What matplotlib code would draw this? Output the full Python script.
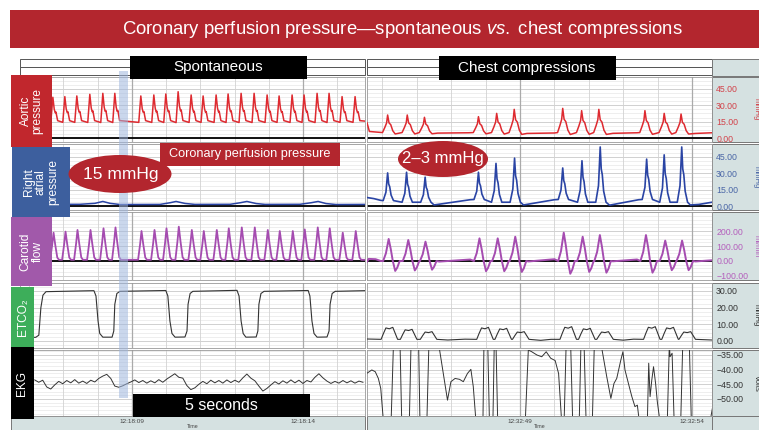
import numpy as np
import matplotlib.pyplot as plt
from matplotlib.patches import Rectangle, Ellipse
from matplotlib.ticker import FixedLocator, MultipleLocator, FuncFormatter

plt.rcParams['font.family'] = ['Liberation Sans', 'DejaVu Sans']
plt.rcParams['mathtext.fontset'] = 'custom'
plt.rcParams['mathtext.rm'] = 'Liberation Sans'
plt.rcParams['mathtext.it'] = 'Liberation Sans:italic'

# ---------------- data (seconds after 12:18:00 left, after 12:32:00 right) ----------------
left_xlim = (5.73, 15.81)
right_xlim = (44.55, 54.58)
left_time_ticks = [9, 14]
left_time_labels = ['12:18:09', '12:18:14']
right_time_ticks = [49, 54]
right_time_labels = ['12:32:49', '12:32:54']

# aortic pressure, spontaneous beats (mmHg)
aortic_left_t = [6.69, 7.04, 7.39, 7.77, 8.15, 8.50, 9.26, 9.64, 9.99, 10.35, 10.73, 11.08,
                 11.46, 11.81, 12.19, 12.57, 12.95, 13.30, 13.68, 14.03, 14.41, 14.76, 15.14, 15.52]
aortic_left_peak = [37.4, 38.0, 38.6, 40.1, 41.0, 41.0, 38.6, 39.5, 40.4, 42.5, 39.5, 38.6,
                    39.5, 40.4, 41.0, 41.0, 39.5, 38.6, 39.5, 39.5, 41.0, 41.0, 38.0, 38.0]
aortic_left_base = 15.5

# aortic pressure, chest compressions
compress_t = [45.15, 45.72, 46.22, 47.79, 48.32, 48.83, 50.24, 50.79, 51.29, 52.63, 53.19, 53.68]
aortic_right_peak = [21.1, 21.1, 19.0, 19.6, 22.6, 26.3, 27.2, 25.1, 26.3, 25.1, 22.6, 22.0]
aortic_right_base = 5.0
aortic_right_pause_t = [44.55, 44.62, 44.8, 46.6, 47.5, 49.2, 50.0, 51.7, 52.4, 54.1, 54.58]
aortic_right_pause_v = [14.0, 6.0, 5.5, 4.5, 4.8, 4.2, 4.6, 4.3, 4.8, 4.2, 4.8]

# right atrial pressure
ra_left_t = [5.73, 7.48, 7.92, 8.15, 8.36, 8.65, 9.82, 10.11, 10.29, 10.55, 10.84, 11.87,
             12.16, 12.36, 12.63, 12.89, 13.91, 14.23, 14.44, 14.67, 14.96, 15.81]
ra_left_v = [1.5, 1.6, 2.5, 4.2, 2.5, 1.4, 1.5, 3.0, 4.2, 2.4, 1.5, 1.6,
             3.0, 4.2, 2.3, 1.5, 1.6, 3.0, 4.2, 2.3, 1.4, 1.5]
ra_right_t = [45.15, 45.70, 46.24, 47.79, 48.30, 48.84, 50.24, 50.80, 51.33, 52.68, 53.19, 53.70]
ra_right_peak = [30.3, 30.9, 26.4, 30.9, 39.0, 43.8, 34.8, 41.4, 54.0, 42.9, 46.8, 54.0]
ra_right_base = [5.0, 3.5, 3.5, 6.0, 3.5, 3.5, 6.0, 3.5, 3.5, 6.0, 3.5, 3.5]
ra_right_pause_t = [44.55, 44.75, 44.95, 46.5, 47.55, 49.1, 50.0, 51.6, 52.45, 53.95, 54.2, 54.58]
ra_right_pause_v = [7.8, 6.8, 5.2, 1.0, 5.8, 1.0, 5.8, 0.8, 5.8, 1.0, 1.5, 3.5]

# carotid flow (ml/min)
carotid_left_peak = [189, 196, 207, 207, 218, 224, 200, 207, 218, 229, 207, 200,
                     207, 218, 224, 224, 207, 200, 200, 211, 224, 218, 189, 200]
carotid_left_base = 8
carotid_right_peak = [147, 140, 129, 151, 151, 162, 189, 162, 173, 173, 136, 136]
carotid_right_pause_t = [44.55, 44.6, 44.8, 44.95, 46.65, 47.55, 49.25, 50.0, 51.7, 52.4, 54.1, 54.58]
carotid_right_pause_v = [-5, 14, 12, 0, -4, 10, -3, 12, -2, 10, -3, 5]

# end-tidal CO2 (mmHg)
etco2_left_t = [5.73, 6.19, 6.28, 6.34, 6.40, 6.49, 7.89, 7.95, 8.01, 8.06, 8.15, 8.42, 8.47,
                8.50, 8.56, 8.65, 9.99, 10.05, 10.11, 10.17, 10.26, 10.55, 10.61, 10.64, 10.70,
                10.78, 12.07, 12.13, 12.19, 12.25, 12.33, 12.63, 12.68, 12.71, 12.77, 12.86,
                14.15, 14.20, 14.26, 14.32, 14.41, 14.70, 14.76, 14.79, 14.85, 14.94, 15.81]
etco2_left_v = [2.2, 2.2, 3.5, 20, 27.5, 29.6, 30.2, 27, 12, 4.5, 2.3, 2.3, 6,
                22, 28.5, 29.8, 30.3, 27, 12, 4.5, 2.3, 2.4, 6, 22, 28.5,
                29.8, 30.4, 27, 12, 4.5, 2.3, 2.4, 6, 22, 28.5, 29.8,
                30.3, 27, 12, 4.5, 2.3, 2.4, 6, 22, 28.5, 29.8, 30.2]
etco2_right_t = [45.20, 45.76, 46.34, 47.98, 48.51, 49.02, 50.40, 50.94, 51.47, 52.83, 53.36, 53.86]
etco2_right_peak = [8.2, 7.0, 5.6, 8.2, 7.6, 5.6, 8.6, 7.6, 5.6, 8.6, 8.2, 5.6]
etco2_right_base = 1.0
etco2_right_pause_t = [44.55, 46.9, 47.4, 49.6, 49.9, 52.0, 52.3, 54.58]
etco2_right_pause_v = [1.2, 0.6, 1.1, 0.4, 1.0, 0.5, 1.1, 0.6]

# EKG (volts scale as shown)
ekg_left_v = [-43.5, -44.3, -43.6, -45.9, -46.6, -45.2, -44.0, -44.8, -43.7, -44.5, -43.4, -44.6,
              -43.9, -44.7, -43.6, -44.2, -43.0, -42.2, -41.6, -43.0, -45.6, -46.0, -45.5, -44.8,
              -44.2, -43.5, -44.4, -43.7, -44.6, -43.8, -44.5, -43.4, -44.3, -43.2, -42.3, -41.4,
              -42.6, -42.9, -45.4, -46.8, -46.2, -45.0, -44.0, -44.8, -43.6, -44.5, -43.7, -44.6,
              -43.5, -44.4, -43.6, -44.3, -42.8, -41.5, -42.9, -43.8, -45.6, -47.3, -46.4, -45.2,
              -44.1, -44.9, -43.8, -44.6, -43.5, -44.5, -43.6, -44.7, -43.7, -44.2, -42.6, -41.4,
              -42.8, -43.9, -44.7, -44.0, -44.6, -43.7, -44.5, -43.8, -44.6, -43.9, -44.3]
ekg_left_t = np.linspace(6.16, 15.75, len(ekg_left_v))
ekg_right_t = [44.35, 44.54, 44.69, 44.79, 44.88, 44.95, 45.03, 45.25, 45.32, 45.51, 45.56, 45.78,
               45.83, 46.05, 46.09, 46.29, 46.35, 46.63, 46.89, 46.99, 47.11, 47.24, 47.35, 47.47,
               47.57, 47.64, 47.72, 47.92, 47.95, 48.06, 48.11, 48.21, 48.25, 48.30, 48.35, 49.15,
               49.24, 49.34, 49.49, 49.63, 49.76, 49.89, 50.02, 50.12, 50.21, 50.28, 50.34, 50.47,
               50.53, 50.72, 50.77, 50.86, 50.92, 51.10, 51.16, 51.35, 51.52, 51.64, 51.73, 51.81,
               51.93, 51.99, 52.05, 52.15, 52.25, 52.34, 52.41, 52.47, 52.70, 52.74, 52.78, 52.83,
               52.88, 52.94, 52.99, 53.07, 53.28, 53.34, 53.36, 53.42, 53.48, 53.67, 53.73, 53.92,
               53.98, 54.52, 54.60]
ekg_right_v = [-42.4, -41.3, -40.1, -40.7, -43.0, -46.4, -58, -58, -31, -31, -58, -58,
               -31, -31, -58, -58, -31, -31, -50.4, -44.1, -43.0, -43.3, -44.1, -41.3,
               -39.9, -45.8, -58, -58, -31, -31, -58, -58, -31, -31, -58, -58,
               -33.3, -33.9, -35.0, -35.6, -33.9, -36.1, -36.9, -41.3, -58, -58, -31, -31,
               -58, -58, -31, -31, -58, -58, -31, -31, -42.4, -49.8, -44.7, -43.0,
               -36.7, -33.9, -40.1, -44.7, -49.2, -52.6, -52.1, -58, -58, -37.8, -49.2, -43.5,
               -39.0, -44.7, -50.9, -58, -58, -31, -35.6, -34.4, -58, -58, -31, -31,
               -58, -58, -52.6]

# beat shapes: (time offset s, fraction of peak above base)
spont_aortic_dt = [-0.06, -0.01, 0.0, 0.04, 0.07, 0.09, 0.14]
spont_aortic_f = [-0.05, 0.85, 1.0, 0.5, 0.35, 0.38, 0.02]
spont_carotid_dt = [-0.1, -0.04, 0.0, 0.05, 0.11, 0.16]
spont_carotid_f = [0.0, 0.55, 1.0, 0.55, 0.08, 0.0]
cpr_aortic_dt = [-0.15, -0.08, -0.03, 0.0, 0.04, 0.09, 0.15, 0.22]
cpr_aortic_f = [0.0, 0.3, 0.55, 1.0, 0.55, 0.45, 0.1, -0.08]
cpr_ra_dt = [-0.13, -0.05, 0.0, 0.03, 0.06, 0.1, 0.17]
cpr_ra_f = [0.0, 0.3, 1.0, 0.6, 0.5, 0.2, 0.0]
cpr_carotid_dt = [-0.16, -0.08, 0.0, 0.06, 0.12, 0.19, 0.25, 0.32]
cpr_carotid_f = [0.0, 0.35, 1.0, 0.55, 0.0, -0.45, -0.3, 0.0]
cpr_etco2_dt = [-0.24, -0.17, -0.1, 0.0, 0.1, 0.17, 0.24]
cpr_etco2_f = [0.0, 0.5, 0.95, 0.88, 1.0, 0.5, 0.0]


def beats(peak_t, peak_v, base, dts, fs, extra_t=(), extra_v=()):
    base = np.broadcast_to(base, (len(peak_t),))
    t, v = list(extra_t), list(extra_v)
    for tp, vp, b in zip(peak_t, peak_v, base):
        for dt, f in zip(dts, fs):
            t.append(tp + dt)
            v.append(b + f * (vp - b))
    order = np.argsort(t)
    return np.array(t)[order], np.array(v)[order]


W, H = 759, 430
fig = plt.figure(figsize=(W / 100, H / 100), dpi=100)


def full_axes(z):
    ax = fig.add_axes([0, 0, 1, 1])
    ax.set_xlim(0, W)
    ax.set_ylim(H, 0)
    ax.axis('off')
    ax.set_zorder(z)
    ax.patch.set_visible(False)
    return ax


def box(ax, x0, y0, x1, y1, **kw):
    ax.add_patch(Rectangle((x0, y0), x1 - x0, y1 - y0, **kw))


bg = full_axes(0)
ov = full_axes(10)

AXIS_BG = '#d5e1e1'
EDGE = '#777777'

# title banner
box(bg, 10, 10, 760, 48, facecolor='#b3262e', edgecolor='none')
bg.text(402, 30, r'Coronary perfusion pressure—spontaneous $\it{vs.}$ chest compressions',
        color='white', fontsize=13.3, ha='center', va='center')

# header table
for x0, x1 in [(20, 365), (367, 712)]:
    box(bg, x0, 59, x1, 67, facecolor='white', edgecolor='#555555', lw=0.7)
    box(bg, x0, 67, x1, 75, facecolor='white', edgecolor='#555555', lw=0.7)
box(bg, 712, 59, 762, 76, facecolor=AXIS_BG, edgecolor=EDGE, lw=0.7)

rows = [
    # y0, y1, ylim, major ticks, minor step, tick colour, unit
    (77, 142, (-3.67, 56.0), [0, 15, 30, 45], 3.75, '#d2424a', 'mmHg'),
    (144, 210, (-3.6, 56.7), [0, 15, 30, 45], 3.75, '#4a66a6', 'mmHg'),
    (212, 280, (-126.7, 326.7), [-100, 0, 100, 200], 25, '#b45fbc', 'ml/min'),
    (283, 348, (-4.2, 34.8), [0, 10, 20, 30], 2.5, '#333333', 'mmHg'),
    (350, 416, (-55.8, -33.3), [-50, -45, -40, -35], 1.25, '#333333', 'Volts'),
]

fmt = FuncFormatter(lambda v, p: f'{v:.2f}'.replace('-', '\u2212'))


def make_axes(x0, x1, y0, y1, xlim, ylim, major, minor, xt, right, tcol):
    ax = fig.add_axes([x0 / W, 1 - y1 / H, (x1 - x0) / W, (y1 - y0) / H])
    ax.set_zorder(1)
    ax.set_xlim(*xlim)
    ax.set_ylim(*ylim)
    ax.yaxis.set_major_locator(FixedLocator(major))
    ax.yaxis.set_minor_locator(MultipleLocator(minor))
    ax.xaxis.set_major_locator(FixedLocator(xt))
    ax.xaxis.set_minor_locator(MultipleLocator(1))
    ax.grid(which='minor', axis='y', color='#e8e8e8', lw=0.5)
    ax.grid(which='major', axis='y', color='#d0d0d0', lw=0.7)
    ax.grid(which='minor', axis='x', color='#d2d2d2', lw=0.6)
    ax.grid(which='major', axis='x', color='#aaaaaa', lw=0.9)
    ax.set_axisbelow(True)
    ax.xaxis.set_zorder(0.6)
    ax.tick_params(which='both', length=0, labelbottom=False, labelleft=False)
    for s in ax.spines.values():
        s.set_color('#999999')
        s.set_linewidth(0.6)
    if right:
        ax.yaxis.tick_right()
        ax.yaxis.set_major_formatter(fmt)
        ax.tick_params(labelright=True, labelsize=6.3, labelcolor=tcol, pad=3)
    return ax


axes = []
for y0, y1, ylim, major, minor, tcol, unit in rows:
    box(bg, 712, y0, 762, y1, facecolor=AXIS_BG, edgecolor=EDGE, lw=0.7)
    bg.text(756, (y0 + y1) / 2, unit, rotation=270, ha='center', va='center',
            fontsize=5.5, color=tcol)
    axl = make_axes(20, 365, y0, y1, left_xlim, ylim, major, minor, left_time_ticks, False, tcol)
    axr = make_axes(367, 712, y0, y1, right_xlim, ylim, major, minor, right_time_ticks, True, tcol)
    axes.append((axl, axr))

# time strip
box(bg, 11, 416, 365, 432, facecolor=AXIS_BG, edgecolor=EDGE, lw=0.7)
box(bg, 367, 416, 712, 432, facecolor=AXIS_BG, edgecolor=EDGE, lw=0.7)
box(bg, 712, 416, 762, 432, facecolor=AXIS_BG, edgecolor=EDGE, lw=0.7)
for ax, ticks, labels in [(axes[4][0], left_time_ticks, left_time_labels),
                          (axes[4][1], right_time_ticks, right_time_labels)]:
    ax.set_xticks(ticks)
    ax.set_xticklabels(labels)
    ax.tick_params(axis='x', labelbottom=True, labelsize=4.6, labelcolor='#444444', pad=2.5)
    ax.set_xlabel('Time', fontsize=3.8, color='#444444', labelpad=0)

RED, BLUE, PURPLE, GREY = '#de2a30', '#2a44a4', '#a54cb0', '#333333'

# aortic
ax_l, ax_r = axes[0]
t, v = beats(aortic_left_t, aortic_left_peak, aortic_left_base, spont_aortic_dt, spont_aortic_f,
             [left_xlim[0], left_xlim[1]], [aortic_left_base, aortic_left_base])
ax_l.plot(t, v, color=RED, lw=1.1, zorder=3)
t, v = beats(compress_t, aortic_right_peak, aortic_right_base, cpr_aortic_dt, cpr_aortic_f,
             aortic_right_pause_t, aortic_right_pause_v)
ax_r.plot(t, v, color=RED, lw=1.1, zorder=3)

# right atrial
ax_l, ax_r = axes[1]
ax_l.plot(ra_left_t, ra_left_v, color=BLUE, lw=1.1, zorder=3)
t, v = beats(ra_right_t, ra_right_peak, ra_right_base, cpr_ra_dt, cpr_ra_f,
             ra_right_pause_t, ra_right_pause_v)
ax_r.plot(t, v, color=BLUE, lw=1.2, zorder=3)

# carotid
ax_l, ax_r = axes[2]
t, v = beats(np.array(aortic_left_t) + 0.02, carotid_left_peak, carotid_left_base,
             spont_carotid_dt, spont_carotid_f,
             [left_xlim[0], left_xlim[1]], [carotid_left_base, carotid_left_base])
ax_l.plot(t, v, color=PURPLE, lw=1.3, zorder=3)
t, v = beats(np.array(compress_t) + 0.03, carotid_right_peak, 0, cpr_carotid_dt, cpr_carotid_f,
             carotid_right_pause_t, carotid_right_pause_v)
ax_r.plot(t, v, color=PURPLE, lw=1.4, zorder=3)

for ax in axes[0] + axes[1] + axes[2]:
    ax.axhline(0, color='black', lw=1.3, zorder=2)

# ETCO2
ax_l, ax_r = axes[3]
ax_l.plot(etco2_left_t, etco2_left_v, color=GREY, lw=0.8, zorder=3)
t, v = beats(etco2_right_t, etco2_right_peak, etco2_right_base, cpr_etco2_dt, cpr_etco2_f,
             etco2_right_pause_t, etco2_right_pause_v)
ax_r.plot(t, v, color=GREY, lw=0.8, zorder=3)

# EKG
ax_l, ax_r = axes[4]
ax_l.plot(ekg_left_t, ekg_left_v, color=GREY, lw=0.7, zorder=3)
ax_r.plot(ekg_right_t, ekg_right_v, color=GREY, lw=0.7, zorder=3)

# ---------------- annotations on top ----------------
box(ov, 119, 71, 128, 398, facecolor='#9fb6de', alpha=0.55, edgecolor='none')

labels = [
    (11, 75, 52, 147, '#c1272d', 'Aortic\npressure'),
    (12, 147, 70, 217, '#3d5f9e', 'Right\natrial\npressure'),
    (11, 217, 52, 286, '#a159aa', 'Carotid\nflow'),
    (11, 287, 34, 347, '#3dae5a', 'ETCO₂'),
    (11, 347, 34, 419, 'black', 'EKG'),
]
for x0, y0, x1, y1, col, txt in labels:
    box(ov, x0, y0, x1, y1, facecolor=col, edgecolor='none')
    ov.text((x0 + x1) / 2, (y0 + y1) / 2, txt, rotation=90, ha='center', va='center',
            color='white', fontsize=8.6, linespacing=1.0, multialignment='center')

box(ov, 130, 56, 307, 79, facecolor='black')
ov.text(218, 67.5, 'Spontaneous', color='white', fontsize=11, ha='center', va='center')
box(ov, 439, 56, 616, 80, facecolor='black')
ov.text(527, 68, 'Chest compressions', color='white', fontsize=11, ha='center', va='center')
box(ov, 133, 394, 310, 417, facecolor='black')
ov.text(221, 405.5, '5 seconds', color='white', fontsize=11.5, ha='center', va='center')

box(ov, 160, 143, 340, 166, facecolor='#b3262e')
ov.text(250, 154.5, 'Coronary perfusion pressure', color='white', fontsize=9.2,
        ha='center', va='center')
ov.add_patch(Ellipse((120, 174), 103, 38, facecolor='#b3262e', edgecolor='none'))
ov.text(121, 174, '15 mmHg', color='white', fontsize=12.5, ha='center', va='center')
ov.add_patch(Ellipse((443, 159), 90, 36, facecolor='#b3262e', edgecolor='none'))
ov.text(443, 159, '2–3 mmHg', color='white', fontsize=12, ha='center', va='center')

fig.savefig('out.png', dpi=100)
